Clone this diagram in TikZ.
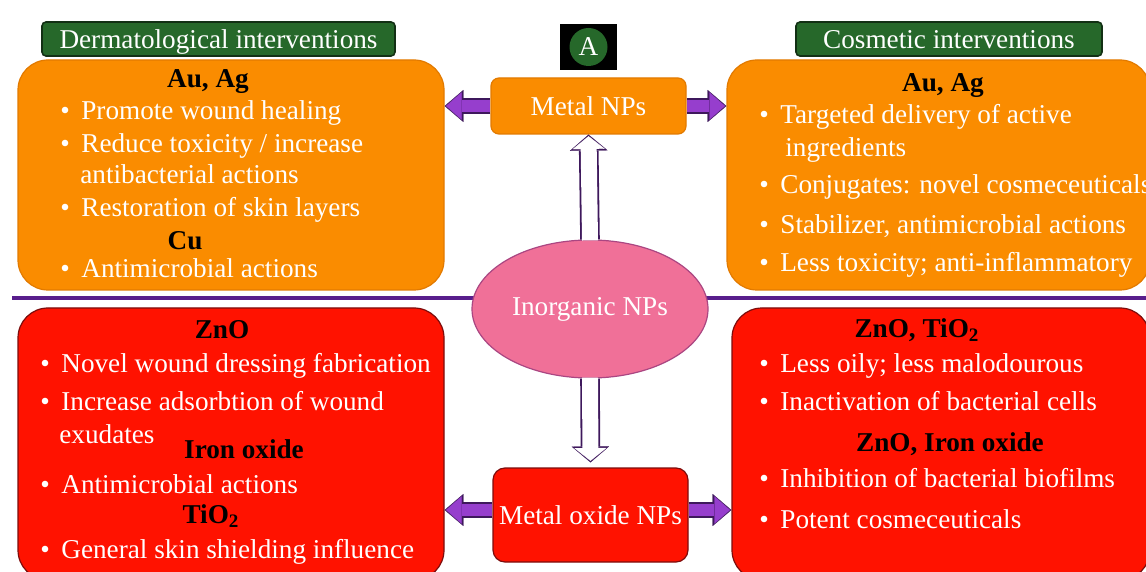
\documentclass[tikz,border=0pt]{standalone}
\usepackage{fontspec}
\setmainfont{Liberation Serif}
\usepackage{xcolor}
\usetikzlibrary{shapes.geometric, arrows.meta}
\definecolor{boxorange}{RGB}{250,140,0}
\definecolor{edgeorange}{RGB}{226,122,0}
\definecolor{boxred}{RGB}{255,18,0}
\definecolor{edgered}{RGB}{125,12,12}
\definecolor{taggreen}{RGB}{38,104,42}
\definecolor{edgegreen}{RGB}{18,48,20}
\definecolor{npspink}{RGB}{240,112,152}
\definecolor{edgepink}{RGB}{170,70,130}
\definecolor{arrowpurple}{RGB}{150,62,205}
\definecolor{darkpurple}{RGB}{62,24,92}
\definecolor{linepurple}{RGB}{88,30,140}
\newcommand{\bodyfont}{\fontsize{13.6}{16}\selectfont}
\newcommand{\bulletmark}{\makebox[10.5pt][l]{\textbullet}}
\tikzset{
  font=\bodyfont,                                   % one size for all text
  orangebox/.style   = {rectangle, draw=edgeorange, fill=boxorange,
                        rounded corners=15pt, line width=0.6pt, inner sep=0pt},
  redbox/.style      = {rectangle, draw=edgered, fill=boxred,
                        rounded corners=15pt, line width=0.6pt, inner sep=0pt},
  tagbox/.style      = {rectangle, draw=edgegreen, fill=taggreen, text=white,
                        rounded corners=2pt, line width=0.8pt, inner sep=0pt,
                        text height=10pt, text depth=0pt},
  npbox/.style       = {rectangle, line width=0.6pt, text=white, inner sep=0pt},
  itemline/.style    = {anchor=base west, inner sep=0pt, text=white},
  metalhead/.style   = {anchor=base, inner sep=0pt, font=\bodyfont\bfseries},
  % fat arrows: dark edge first, fill on top
  sideedge/.style    = {draw=darkpurple, line width=7.8pt,
                        -{Triangle[width=16pt, length=9.4pt, line width=0.1pt]}},
  sidearrow/.style   = {draw=arrowpurple, line width=6.4pt,
                        -{Triangle[width=13.6pt, length=7.8pt, line width=0.1pt]},
                        shorten >=0.7pt},
  hollowedge/.style  = {draw=darkpurple, line width=9.8pt,
                        -{Triangle[width=18.8pt, length=8pt, line width=0.1pt]}},
  hollowarrow/.style = {draw=white, line width=8pt,
                        -{Triangle[width=16pt, length=6.4pt, line width=0.1pt]},
                        shorten >=0.8pt}
}

\begin{document}
\begin{tikzpicture}[x=0.5pt, y=-0.5pt]
  \useasboundingbox (0,0) rectangle (1146,572);
  \clip (0,0) rectangle (1146,572);

  % boxes
  \node[orangebox, minimum width=213pt, minimum height=115pt] (dermtop) at (231,175) {};
  \node[orangebox, minimum width=211.5pt, minimum height=115pt] (cosmtop) at (938.5,175) {};
  \node[redbox, minimum width=213pt, minimum height=136pt] (dermbot) at (231,444) {};
  \node[redbox, minimum width=209pt, minimum height=136pt] (cosmbot) at (941,444) {};

  \node[tagbox, minimum width=176.5pt, minimum height=17pt] (dermtag) at (218.5,39) {Dermatological interventions};
  \node[tagbox, minimum width=153pt, minimum height=17pt] (cosmtag) at (949,39) {Cosmetic interventions};

  \node[rectangle, fill=black, minimum width=28.5pt, minimum height=23pt] (badge) at (588.5,47) {};
  \node[circle, fill=taggreen, text=white, minimum size=19pt, inner sep=0pt] (badgedot) at (badge.center) {A};

  \draw[linepurple, line width=2.2pt] (12,298) -- (1146,298);

  \node[npbox, draw=edgeorange, fill=boxorange, rounded corners=4pt,
        minimum width=97.5pt, minimum height=28pt] (metal) at (588.5,106) {Metal NPs};
  \node[npbox, draw=edgered, fill=boxred, rounded corners=6pt,
        minimum width=97.5pt, minimum height=47pt] (oxide) at (590.5,515) {Metal oxide NPs};
  \node[ellipse, draw=edgepink, fill=npspink, text=white, line width=0.6pt, inner sep=0pt,
        minimum width=118pt, minimum height=69pt] (inorg) at (590,309) {Inorganic NPs};

  % connectors
  \draw[hollowedge] (inorg.north) -- (metal.south);
  \draw[hollowarrow] ([yshift=-0.5pt]inorg.north) -- (metal.south);
  \draw[hollowedge] (inorg.south) -- ([yshift=2.5pt]oxide.north);
  \draw[hollowarrow] ([yshift=0.5pt]inorg.south) -- ([yshift=2.5pt]oxide.north);
  \draw[sideedge] (metal.west) -- (metal.west -| dermtop.east);
  \draw[sidearrow] (metal.west) -- (metal.west -| dermtop.east);
  \draw[sideedge] (metal.east) -- (metal.east -| cosmtop.west);
  \draw[sidearrow] (metal.east) -- (metal.east -| cosmtop.west);
  \draw[sideedge] ([yshift=2.5pt]oxide.west) -- ([yshift=2.5pt]oxide.west -| dermbot.east);
  \draw[sidearrow] ([yshift=2.5pt]oxide.west) -- ([yshift=2.5pt]oxide.west -| dermbot.east);
  \draw[sideedge] ([yshift=2.5pt]oxide.east) -- ([yshift=2.5pt]oxide.east -| cosmbot.west);
  \draw[sidearrow] ([yshift=2.5pt]oxide.east) -- ([yshift=2.5pt]oxide.east -| cosmbot.west);

  % dermatological, metal
  \node[metalhead] (dtmh1) at (208,88) {Au, Ag};
  \node[itemline] (dti1) at (60,120) {\bulletmark Promote wound healing};
  \node[itemline] (dti2) at (60,153) {\bulletmark Reduce toxicity / increase};
  \node[itemline] (dti2b) at (80,184) {antibacterial actions};
  \node[itemline] (dti3) at (60,217) {\bulletmark Restoration of skin layers};
  \node[metalhead] (dtmh2) at (185,250) {Cu};
  \node[itemline] (dti4) at (60,278) {\bulletmark Antimicrobial actions};

  % cosmetic, metal
  \node[metalhead] (ctmh1) at (943,92) {Au, Ag};
  \node[itemline] (cti1) at (759,124) {\bulletmark Targeted delivery of active};
  \node[itemline] (cti1b) at (785,157) {ingredients};
  \node[itemline] (cti2) at (759,194) {\bulletmark Conjugates: novel cosmeceuticals};
  \node[itemline] (cti3) at (759,234) {\bulletmark Stabilizer, antimicrobial actions};
  \node[itemline] (cti4) at (759,272) {\bulletmark Less toxicity; anti-inflammatory};

  % dermatological, metal oxide
  \node[metalhead] (dbmh1) at (222,338) {ZnO};
  \node[itemline] (dbi1) at (40,372) {\bulletmark Novel wound dressing fabrication};
  \node[itemline] (dbi2) at (40,410) {\bulletmark Increase adsorbtion of wound};
  \node[itemline] (dbi2b) at (59,443) {exudates};
  \node[metalhead] (dbmh2) at (244,458) {Iron oxide};
  \node[itemline] (dbi3) at (40,493) {\bulletmark Antimicrobial actions};
  \node[metalhead] (dbmh3) at (211,523) {TiO\textsubscript{2}};
  \node[itemline] (dbi4) at (40,558) {\bulletmark General skin shielding influence};

  % cosmetic, metal oxide
  \node[metalhead] (cbmh1) at (917,337) {ZnO, TiO\textsubscript{2}};
  \node[itemline] (cbi1) at (759,372) {\bulletmark Less oily; less malodourous};
  \node[itemline] (cbi2) at (759,410) {\bulletmark Inactivation of bacterial cells};
  \node[metalhead] (cbmh2) at (950,451) {ZnO, Iron oxide};
  \node[itemline] (cbi3) at (759,487) {\bulletmark Inhibition of bacterial biofilms};
  \node[itemline] (cbi4) at (759,528) {\bulletmark Potent cosmeceuticals};
\end{tikzpicture}
\end{document}
